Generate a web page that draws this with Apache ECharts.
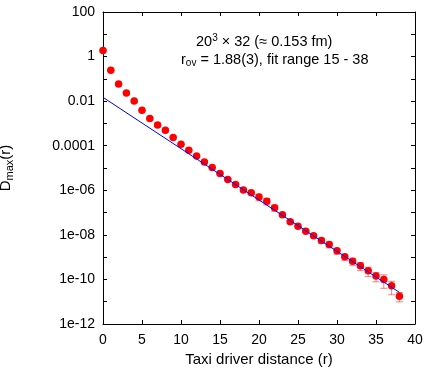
<!DOCTYPE html>
<html>
<head>
<meta charset="utf-8">
<script src="https://cdn.jsdelivr.net/npm/echarts@6/dist/echarts.min.js"></script>
<style>html,body{margin:0;padding:0;background:#fff}#c{width:432px;height:369px}</style>
</head>
<body>
<div id="c"></div>
<script>
// Data
var distances = [0,1,2,3,4,5,6,7,8,9,10,11,12,13,14,15,16,17,18,19,20,21,22,23,24,25,26,27,28,29,30,31,32,33,34,35,36,37,38];
var dmax = [1.86,0.243,0.059,0.0233,0.0102,0.00391,0.00166,8.57e-4,4.95e-4,2.33e-4,1.17e-4,6.28e-5,3.49e-5,1.88e-5,1.05e-5,
  5.66e-6,3.05e-6,1.82e-6,1.04e-6,7.80e-7,5.01e-7,3.24e-7,1.63e-7,7.89e-8,3.83e-8,2.45e-8,1.47e-8,9.02e-9,5.61e-9,3.72e-9,
  1.92e-9,1.03e-9,6.62e-10,4.07e-10,2.43e-10,1.41e-10,1.00e-10,5.16e-11,1.78e-11];
var dmaxErr = [0.037,0.005,0.0012,0.0005,0.0002,8e-5,3.3e-5,1.7e-5,1e-5,4.7e-6,2.3e-6,1.3e-6,7e-7,3.8e-7,2.1e-7,
  4.5e-7,2.4e-7,1.5e-7,8.3e-8,1.2e-7,1.65e-7,1.04e-7,4.9e-8,1.2e-8,5.7e-9,2.9e-9,1.8e-9,1.35e-9,1.4e-9,1.1e-9,
  5.8e-10,3.1e-10,2.3e-10,1.6e-10,1.1e-10,6.3e-11,6e-11,3.1e-11,8e-12];
var fitX = [0, 38];
var fitY = [0.0148, 2.63e-11];
var xTicks = [0,5,10,15,20,25,30,35,40];
var yTickLabels = {'2':'100','0':'1','-2':'0.01','-4':'0.0001','-6':'1e-06','-8':'1e-08','-10':'1e-10','-12':'1e-12'};

var FONT = 'Liberation Sans';
var chart = echarts.init(document.getElementById('c'), null, {renderer:'canvas'});

var pts = distances.map(function(r,i){return [r, dmax[i]];});
var errs = distances.map(function(r,i){return [r, dmax[i]-dmaxErr[i], dmax[i]+dmaxErr[i]];});
var fit = fitX.map(function(x,i){return [x, fitY[i]];});

function yLabel(v){
  var e = Math.round(Math.log10(v));
  var s = yTickLabels[String(e)];
  return s === undefined ? '' : s;
}

var axisLineStyle = {color:'#000', width:1};
chart.setOption({
  animation:false,
  backgroundColor:'#fff',
  grid:{left:103, top:12, right:17, bottom:45, containLabel:false, outerBoundsMode:'none'},
  xAxis:[{
    type:'value', min:0, max:40, interval:5, position:'bottom',
    axisLine:{show:true, onZero:false, lineStyle:axisLineStyle},
    axisTick:{show:true, inside:true, length:4, lineStyle:{color:'#000'}},
    axisLabel:{color:'#000', fontFamily:FONT, fontSize:14, margin:9, formatter:function(v){return xTicks.indexOf(v)>=0?String(v):'';}},
    splitLine:{show:false},
    name:'Taxi driver distance (r)', nameLocation:'middle', nameGap:27,
    nameTextStyle:{color:'#000', fontFamily:FONT, fontSize:15}
  },{
    type:'value', min:0, max:40, interval:5, position:'top',
    axisLine:{show:true, onZero:false, lineStyle:axisLineStyle},
    axisTick:{show:true, inside:true, length:4, lineStyle:{color:'#000'}},
    axisLabel:{show:false}, splitLine:{show:false}
  }],
  yAxis:[{
    type:'log', logBase:10, min:1e-12, max:100, interval:1, position:'left',
    axisLine:{show:true, onZero:false, lineStyle:axisLineStyle},
    axisTick:{show:true, inside:true, length:4, lineStyle:{color:'#000'}},
    axisLabel:{color:'#000', fontFamily:FONT, fontSize:14, margin:8, formatter:yLabel, showMinLabel:true, showMaxLabel:true},
    splitLine:{show:false},
    name:'D{sub|max}(r)', nameLocation:'middle', nameGap:88, nameRotate:90,
    nameTextStyle:{color:'#000', fontFamily:FONT, fontSize:15, rich:{sub:{fontFamily:FONT, fontSize:11, verticalAlign:'bottom', padding:[7,0,0,0]}}}
  },{
    type:'log', logBase:10, min:1e-12, max:100, interval:1, position:'right',
    axisLine:{show:true, onZero:false, lineStyle:axisLineStyle},
    axisTick:{show:true, inside:true, length:4, lineStyle:{color:'#000'}},
    axisLabel:{show:false}, splitLine:{show:false}
  }],
  graphic:[{
    type:'text', left:196, top:33,
    style:{text:'20{sup|3} × 32 (≈ 0.153 fm)', fill:'#000', font:'14.5px '+FONT,
      rich:{sup:{fontSize:10, fontFamily:FONT, verticalAlign:'top', padding:[0,0,7,0]}}}
  },{
    type:'text', left:181, top:52,
    style:{text:'r{sub|ov} = 1.88(3), fit range 15 - 38', fill:'#000', font:'14.5px '+FONT,
      rich:{sub:{fontSize:10, fontFamily:FONT, verticalAlign:'bottom', padding:[7,0,0,0]}}}
  }],
  series:[{
    type:'custom', name:'err', xAxisIndex:0, yAxisIndex:0, z:2,
    data:errs,
    renderItem:function(params, api){
      var x = api.value(0);
      var lo = api.coord([x, api.value(1)]);
      var hi = api.coord([x, api.value(2)]);
      var w = 3.5;
      var st = {stroke:'rgba(255,40,40,0.6)', lineWidth:1};
      return {type:'group', children:[
        {type:'line', shape:{x1:lo[0], y1:lo[1], x2:hi[0], y2:hi[1]}, style:st},
        {type:'line', shape:{x1:lo[0]-w, y1:lo[1], x2:lo[0]+w, y2:lo[1]}, style:st},
        {type:'line', shape:{x1:hi[0]-w, y1:hi[1], x2:hi[0]+w, y2:hi[1]}, style:st}
      ]};
    }
  },{
    type:'scatter', name:'Dmax', xAxisIndex:0, yAxisIndex:0, z:3,
    data:pts, symbol:'circle', symbolSize:7.5,
    itemStyle:{color:'#ff0000', opacity:1}
  },{
    type:'line', name:'fit', xAxisIndex:0, yAxisIndex:0, z:4,
    data:fit, showSymbol:false, symbol:'none',
    lineStyle:{color:'#0000ff', width:1}
  }]
});
</script>
</body>
</html>
